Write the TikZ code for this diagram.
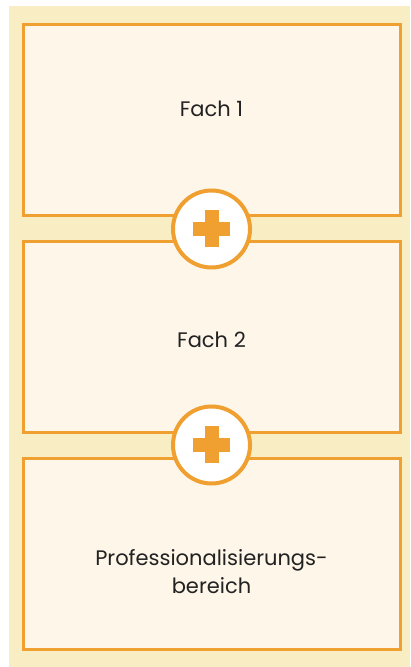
\documentclass[tikz,border=0pt]{standalone}
\usepackage{fontspec}
\setmainfont{Poppins}
\usetikzlibrary{positioning}
\definecolor{bgyellow}{HTML}{F9EDC4}
\definecolor{boxfill}{HTML}{FDF6E9}
\definecolor{plusorange}{HTML}{F0A030}
\definecolor{textdark}{HTML}{222222}
\begin{document}
\begin{tikzpicture}[x=1pt, y=1pt, font=\fontsize{21}{28}\selectfont,
  fachbox/.style={draw=plusorange, line width=3pt, fill=boxfill,
    minimum width=377pt, minimum height=191pt, inner sep=0pt},
  fachtext/.style={text=textdark, align=center},
  plusring/.style={circle, draw=plusorange, line width=4pt, fill=white,
    minimum size=77pt, inner sep=0pt},
  plusarm/.style={fill=plusorange, inner sep=0pt}]
% frame
\useasboundingbox (0,0) rectangle (410,667);
\fill[bgyellow] (9,0) rectangle (410,661);
% boxes
\node[fachbox] (fach1) at (211.5,546.5) {};
\node[fachbox] (fach2) at (211.5,330) {};
\node[fachbox] (prof) at (211.5,113) {};
% texts
\node[fachtext] (t1) at (211.5,558) {Fach 1};
\node[fachtext] (t2) at (211.5,327) {Fach 2};
\node[fachtext] (t3) at (211.5,95) {Professionalisierungs-\\bereich};
% plus signs
\foreach \n/\y in {plusa/438, plusb/222} {%
  \node[plusring] (\n) at (211.5,\y) {};
  \node[plusarm, minimum width=37pt, minimum height=14pt] at (\n) {};
  \node[plusarm, minimum width=14pt, minimum height=37pt] at (\n) {};}
\end{tikzpicture}
\end{document}
